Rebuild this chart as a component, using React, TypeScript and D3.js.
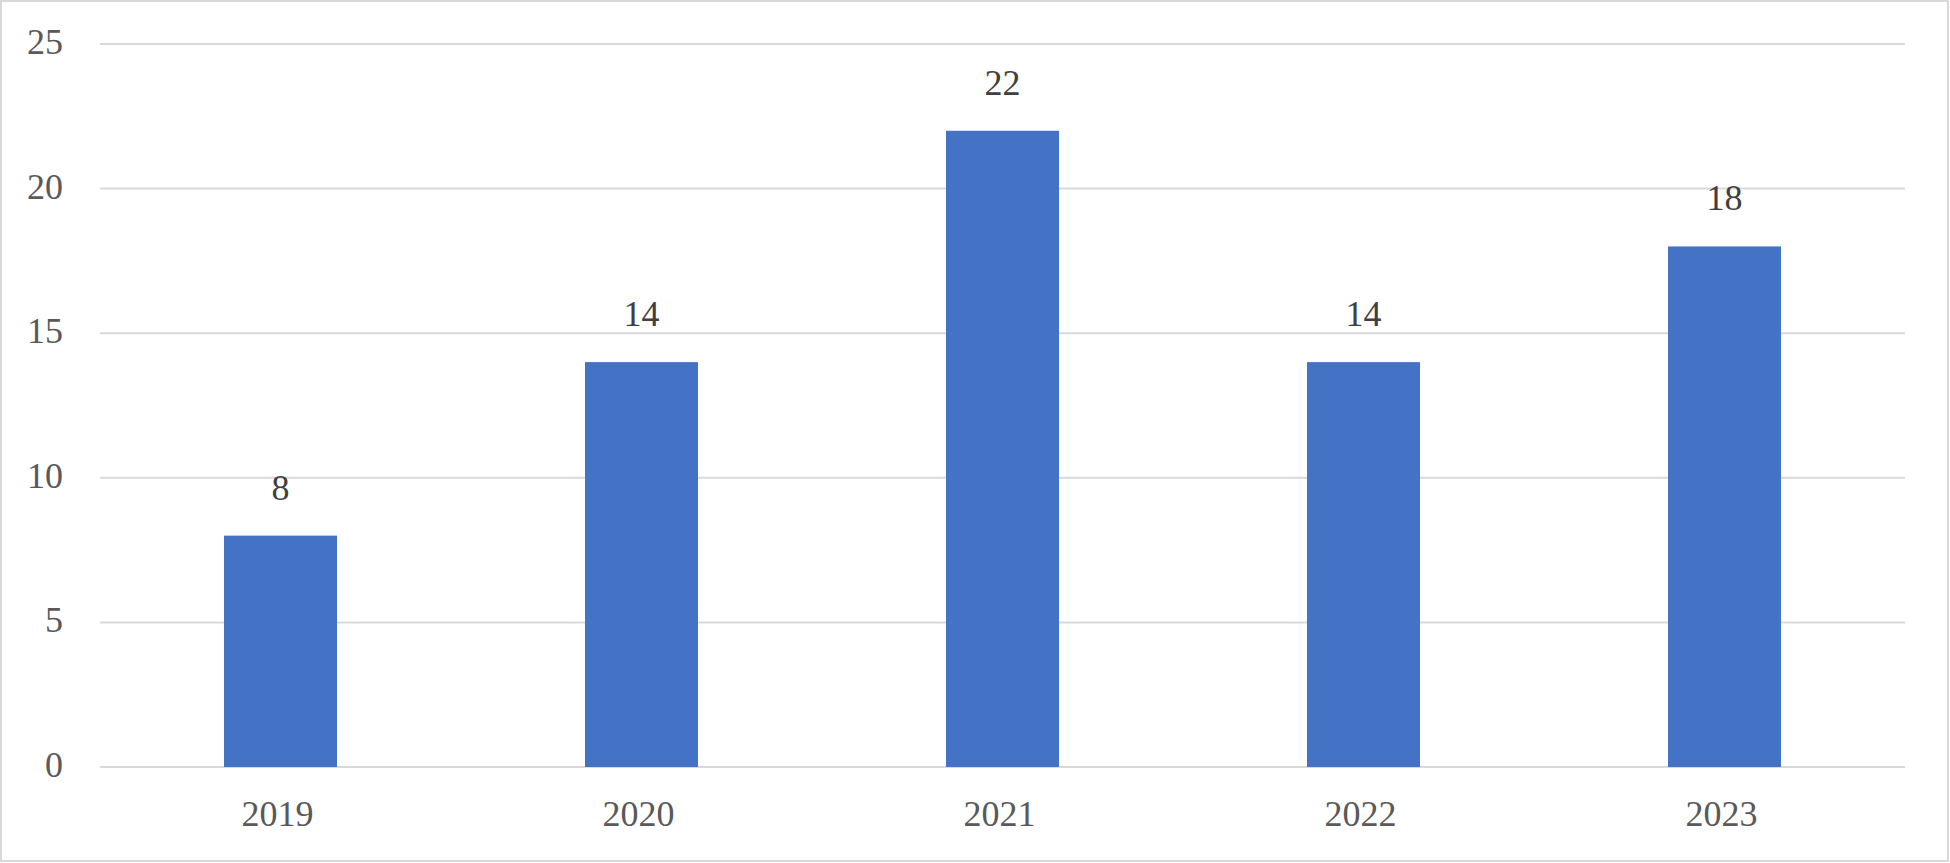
import React from "react";
import * as d3 from "d3";

const categories = ["2019", "2020", "2021", "2022", "2023"];
const values = [8, 14, 22, 14, 18];
const yTicks = [0, 5, 10, 15, 20, 25];

const W = 1950;
const H = 863;
const left = 100;
const right = 1905;
const top = 44;
const bottom = 767;

export default function App() {
  const x = d3.scaleBand<string>().domain(categories).range([left, right]).padding(0);
  const y = d3.scaleLinear().domain([0, 25]).range([bottom, top]);
  const barW = x.bandwidth() * 0.313;
  const font = "'Liberation Serif', 'DejaVu Serif', serif";
  const textColor = "#595959";

  return (
    <svg
      width={W}
      height={H}
      style={{ position: "absolute", left: 0, top: 0, background: "#fff" }}
      fontFamily={font}
    >
      <rect x={1} y={1} width={W - 3} height={H - 3} fill="#fff" stroke="#d9d9d9" strokeWidth={2} />
      {yTicks.map((t) => (
        <g key={t}>
          <line x1={left} x2={right} y1={y(t)} y2={y(t)} stroke="#d9d9d9" strokeWidth={2} />
          <text x={63} y={y(t) + 10} textAnchor="end" fontSize={36} fill={textColor}>
            {t}
          </text>
        </g>
      ))}
      {categories.map((c, i) => {
        const cx = (x(c) as number) + x.bandwidth() / 2;
        return (
          <g key={c}>
            <rect x={cx - barW / 2} y={y(values[i])} width={barW} height={y(0) - y(values[i])} fill="#4472c4" />
            <text x={cx} y={y(values[i]) - 36} textAnchor="middle" fontSize={36} fill="#404040">
              {values[i]}
            </text>
            <text x={cx - 3} y={826} textAnchor="middle" fontSize={36} fill={textColor}>
              {c}
            </text>
          </g>
        );
      })}
    </svg>
  );
}
